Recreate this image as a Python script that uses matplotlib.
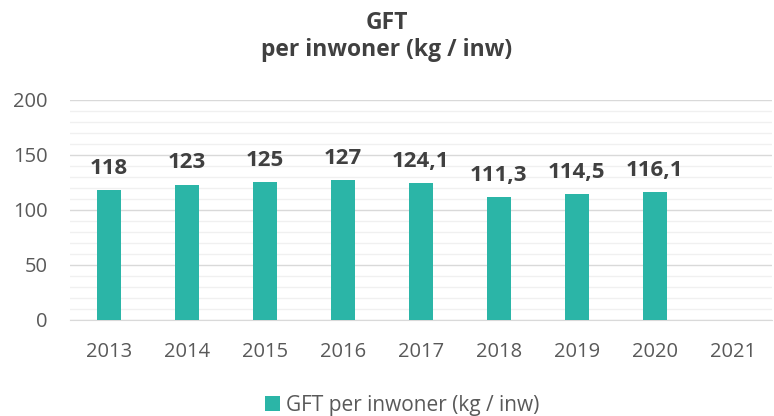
import matplotlib
matplotlib.use("Agg")
import matplotlib.pyplot as plt
from matplotlib.ticker import MultipleLocator

plt.rcParams['font.family'] = ['Open Sans', 'DejaVu Sans']

years = ["2013", "2014", "2015", "2016", "2017", "2018", "2019", "2020", "2021"]
values = [118, 123, 125, 127, 124.1, 111.3, 114.5, 116.1, None]
labels = ["118", "123", "125", "127", "124,1", "111,3", "114,5", "116,1", ""]
series_name = "GFT per inwoner (kg / inw)"

bar_color = "#2BB5A7"

fig = plt.figure(figsize=(7.74, 4.16), dpi=100)
ax = fig.add_axes([0.09, 0.231, 0.907, 0.529])

xs = [i for i, v in enumerate(values) if v is not None]
vs = [v for v in values if v is not None]
bars = ax.bar(xs, vs, width=0.31, color=bar_color, label=series_name, zorder=3)

for x, v, lab in zip(xs, vs, labels):
    ax.annotate(lab, (x, v), xytext=(0, 8), textcoords="offset points",
                ha="center", va="bottom", fontsize=16, fontweight="bold",
                color="#404040")

ax.set_xlim(-0.5, 8.5)
ax.set_ylim(0, 200)
ax.set_xticks(range(len(years)))
ax.set_xticklabels(years)
ax.yaxis.set_major_locator(MultipleLocator(50))
ax.yaxis.set_minor_locator(MultipleLocator(10))
ax.grid(axis="y", which="major", color="#D9D9D9", linewidth=1.0, zorder=0)
ax.grid(axis="y", which="minor", color="#F0F0F0", linewidth=1.0, zorder=0)
for s in ["top", "right", "left"]:
    ax.spines[s].set_visible(False)
ax.spines["bottom"].set_color("#D9D9D9")
ax.tick_params(axis="both", which="both", length=0, labelsize=14.5, colors="#595959")
ax.tick_params(axis="x", pad=16)
ax.tick_params(axis="y", pad=16)

fig.text(0.5, 0.945, "GFT", ha="center", va="center", fontsize=16.5, fontweight="bold", color="#404040")
fig.text(0.5, 0.88, "per inwoner (kg / inw)", ha="center", va="center", fontsize=16.5, fontweight="bold", color="#404040")

fig.legend(handles=[bars], labels=[series_name], loc="center", bbox_to_anchor=(0.52, 0.026),
           frameon=False, fontsize=15, handlelength=0.7, handleheight=0.7, handletextpad=0.3,
           labelcolor="#595959")

fig.savefig("out.png", dpi=100, facecolor="white")
